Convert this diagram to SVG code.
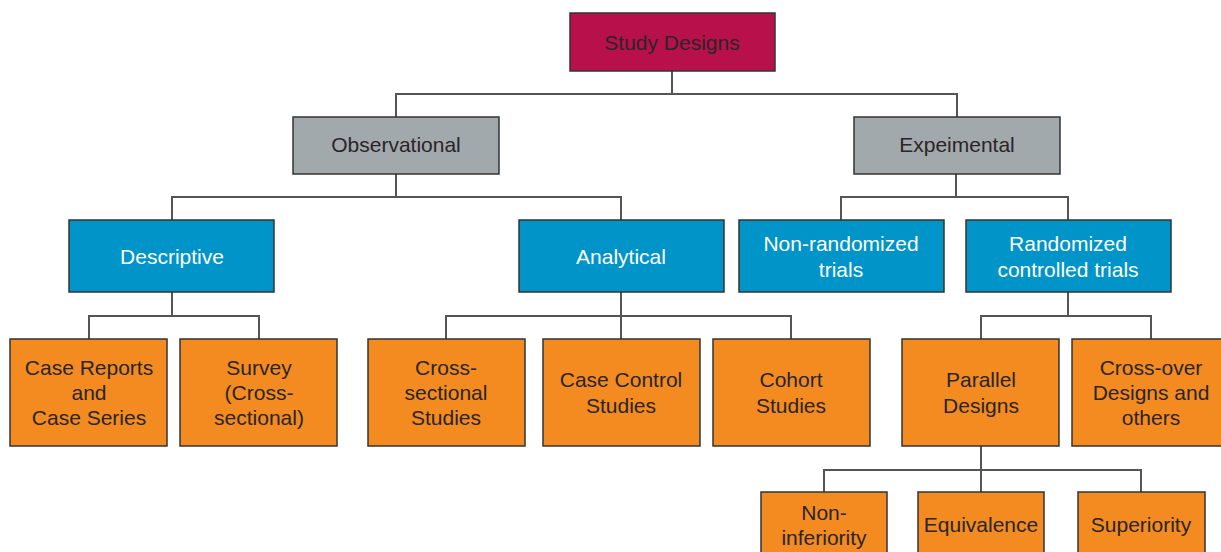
<svg xmlns="http://www.w3.org/2000/svg" width="1221" height="552" viewBox="0 0 1221 552">
<style>
rect{stroke:#333;stroke-width:1.5}
.r{fill:#b8104b}.g{fill:#a2a9ac}.b{fill:#0094c9}.o{fill:#f38b21}
text{font-family:"Liberation Sans",Arial,sans-serif;font-size:21px;text-anchor:middle;fill:#2a2526}
.w{fill:#fff}
#conn path{fill:none;stroke:#555;stroke-width:2}
</style>
<rect width="1221" height="552" fill="#fff" style="stroke:none"/>
<g id="conn">
<path d="M672 71V94M396 117V94H957V117"/>
<path d="M396 174V197M172 220V197H621V220"/>
<path d="M956 174V197M841 220V197H1068V220"/>
<path d="M172 292V316M89 339V316H259V339"/>
<path d="M621 292V316M446 339V316H791V339M621 316V339"/>
<path d="M1068 292V316M981 339V316H1151V339"/>
<path d="M981 446V470M824 492V470H1141V492M981 470V492"/>
</g>
<g id="study"><rect class="r" x="570" y="13" width="205" height="58"/><text x="672" y="49.5">Study Designs</text></g>
<g id="observational"><rect class="g" x="293" y="117" width="206" height="57"/><text x="396" y="152">Observational</text></g>
<g id="experimental"><rect class="g" x="854" y="117" width="206" height="57"/><text x="957" y="152">Expeimental</text></g>
<g id="descriptive"><rect class="b" x="69" y="220" width="205" height="72"/><text class="w" x="172" y="263.5">Descriptive</text></g>
<g id="analytical"><rect class="b" x="519" y="220" width="205" height="72"/><text class="w" x="621" y="263.5">Analytical</text></g>
<g id="nonrandom"><rect class="b" x="739" y="220" width="205" height="72"/><text class="w" x="841" y="250.5">Non-randomized</text><text class="w" x="841" y="276.5">trials</text></g>
<g id="rct"><rect class="b" x="966" y="220" width="205" height="72"/><text class="w" x="1068" y="250.5">Randomized</text><text class="w" x="1068" y="276.5">controlled trials</text></g>
<g id="casereports"><rect class="o" x="10" y="339" width="157" height="107"/><text x="89" y="374.5">Case Reports</text><text x="89" y="400">and</text><text x="89" y="425">Case Series</text></g>
<g id="survey"><rect class="o" x="180" y="339" width="157" height="107"/><text x="259" y="374.5">Survey</text><text x="259" y="400">(Cross-</text><text x="259" y="425">sectional)</text></g>
<g id="crosssectional"><rect class="o" x="368" y="339" width="157" height="107"/><text x="446" y="374.5">Cross-</text><text x="446" y="400">sectional</text><text x="446" y="425">Studies</text></g>
<g id="casecontrol"><rect class="o" x="543" y="339" width="157" height="107"/><text x="621" y="387">Case Control</text><text x="621" y="413">Studies</text></g>
<g id="cohort"><rect class="o" x="713" y="339" width="157" height="107"/><text x="791" y="387">Cohort</text><text x="791" y="413">Studies</text></g>
<g id="parallel"><rect class="o" x="902" y="339" width="157" height="107"/><text x="981" y="387">Parallel</text><text x="981" y="413">Designs</text></g>
<g id="crossover"><rect class="o" x="1072" y="339" width="157" height="107"/><text x="1151" y="374.5">Cross-over</text><text x="1151" y="400">Designs and</text><text x="1151" y="425">others</text></g>
<g id="noninferiority"><rect class="o" x="761" y="492" width="126" height="66"/><text x="824" y="519.5">Non-</text><text x="824" y="544.5">inferiority</text></g>
<g id="equivalence"><rect class="o" x="918" y="492" width="126" height="66"/><text x="981" y="532">Equivalence</text></g>
<g id="superiority"><rect class="o" x="1078" y="492" width="127" height="66"/><text x="1141" y="532">Superiority</text></g>
</svg>
